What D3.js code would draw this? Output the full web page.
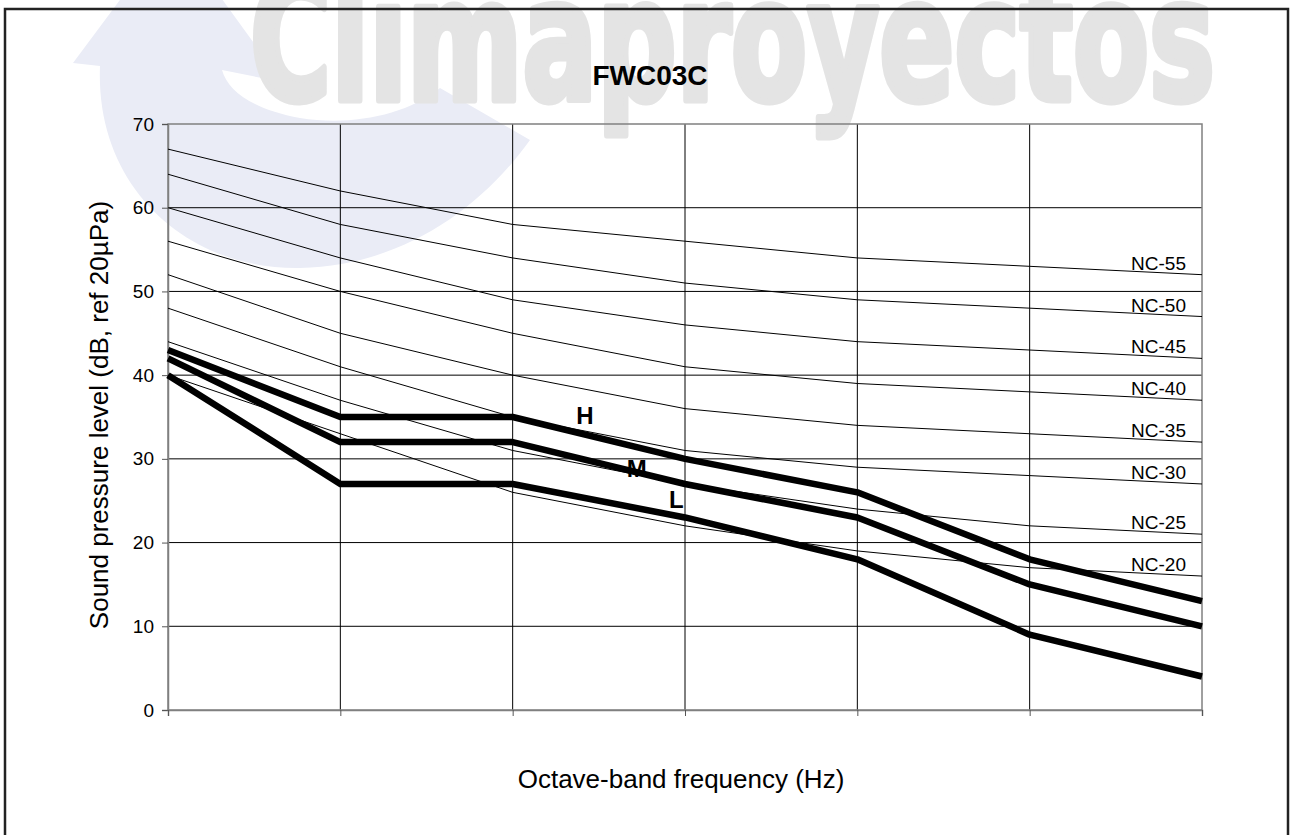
<!DOCTYPE html>
<html>
<head>
<meta charset="utf-8">
<script src="https://cdn.jsdelivr.net/npm/d3@7"></script>
<style>
  html, body { margin: 0; padding: 0; background: #fff; }
  svg { display: block; font-family: Arial, 'Liberation Sans', sans-serif; }
</style>
</head>
<body>
<svg id="chart" width="1290" height="835"></svg>
<script>
// octave bands (Hz), x axis has no printed labels
const bands = [125, 250, 500, 1000, 2000, 4000, 8000]
const yTicks = [0, 10, 20, 30, 40, 50, 60, 70]

// NC reference curves
const ncNames = ['NC-55', 'NC-50', 'NC-45', 'NC-40', 'NC-35', 'NC-30', 'NC-25', 'NC-20']
const ncValues = [
  [67, 62, 58, 56, 54, 53, 52],
  [64, 58, 54, 51, 49, 48, 47],
  [60, 54, 49, 46, 44, 43, 42],
  [56, 50, 45, 41, 39, 38, 37],
  [52, 45, 40, 36, 34, 33, 32],
  [48, 41, 35, 31, 29, 28, 27],
  [44, 37, 31, 27, 24, 22, 21],
  [40, 33, 26, 22, 19, 17, 16]
]

// unit fan speeds
const speedNames = ['H', 'M', 'L']
const speedValues = [
  [43, 35, 35, 30, 26, 18, 13],
  [42, 32, 32, 27, 23, 15, 10],
  [40, 27, 27, 23, 18, 9, 4]
]
// where the H / M / L tags sit (band index, dB)
const speedTagPos = [[2.42, 35.2], [2.72, 28.9], [2.95, 25.2]]

const svg = d3.select('#chart')
const margin = { top: 124, left: 168, right: 88, bottom: 125 }
const W = +svg.attr('width')
const H = +svg.attr('height')

// watermark (logo behind the chart)
svg.append('path')
  .attr('d', 'M100,66 C95,190 190,270 300,268 C400,266 480,210 530,140 L440,88 C405,116 350,126 300,118 C255,110 228,92 222,70 L282,82 L172,-70 L73,63 Z')
  .attr('fill', '#eaecf6')
svg.append('text')
  .attr('x', 250).attr('y', 100)
  .attr('textLength', 965).attr('lengthAdjust', 'spacingAndGlyphs')
  .attr('font-family', "'DejaVu Sans Condensed', 'DejaVu Sans', sans-serif")
  .attr('font-weight', 'bold')
  .attr('font-size', 170)
  .attr('fill', '#e4e4e4')
  .attr('stroke', '#e4e4e4').attr('stroke-width', 7).attr('stroke-linejoin', 'round')
  .text('Climaproyectos')

// outer frame
svg.append('rect')
  .attr('x', 5).attr('y', 9).attr('width', 1283).attr('height', 900)
  .attr('fill', 'none').attr('stroke', '#222').attr('stroke-width', 2.5)

const x = d3.scalePoint().domain(d3.range(bands.length)).range([margin.left, W - margin.right])
const xIdx = d3.scaleLinear().domain([0, bands.length - 1]).range([margin.left, W - margin.right])
const y = d3.scaleLinear().domain([0, 70]).range([H - margin.bottom, margin.top])

// gridlines
svg.append('g')
  .selectAll('line.h')
  .data(yTicks.slice(1, -1))
  .join('line')
  .attr('x1', margin.left).attr('x2', W - margin.right)
  .attr('y1', d => y(d)).attr('y2', d => y(d))
  .attr('stroke', '#000').attr('stroke-width', 1)
svg.append('g')
  .selectAll('line.v')
  .data(d3.range(1, bands.length - 1))
  .join('line')
  .attr('x1', d => x(d)).attr('x2', d => x(d))
  .attr('y1', y(0)).attr('y2', y(70))
  .attr('stroke', '#000').attr('stroke-width', 1)

// plot border
svg.append('rect')
  .attr('x', margin.left).attr('y', y(70))
  .attr('width', x(bands.length - 1) - margin.left).attr('height', y(0) - y(70))
  .attr('fill', 'none').attr('stroke', '#808080').attr('stroke-width', 1.5)

// axes
const yAxis = d3.axisLeft(y).tickValues(yTicks).tickSize(6).tickPadding(8)
svg.append('g')
  .attr('transform', `translate(${margin.left},0)`)
  .call(yAxis)
  .call(g => g.select('.domain').attr('stroke', '#808080').attr('stroke-width', 1.5))
  .call(g => g.selectAll('.tick line').attr('stroke', '#555'))
  .call(g => g.selectAll('.tick text').attr('font-size', 19).attr('font-family', 'Arial, Liberation Sans, sans-serif').attr('fill', '#000'))

const xAxis = d3.axisBottom(x).tickSize(6).tickFormat('')
svg.append('g')
  .attr('transform', `translate(0,${y(0)})`)
  .call(xAxis)
  .call(g => g.select('.domain').attr('stroke', '#808080').attr('stroke-width', 1.5))
  .call(g => g.selectAll('.tick line').attr('stroke', '#555'))

const line = d3.line().x((d, i) => x(i)).y(d => y(d))

// NC curves
svg.append('g')
  .selectAll('path')
  .data(ncValues)
  .join('path')
  .attr('d', line)
  .attr('fill', 'none').attr('stroke', '#000').attr('stroke-width', 1)

svg.append('g')
  .selectAll('text')
  .data(ncValues)
  .join('text')
  .attr('x', W - margin.right - 16)
  .attr('y', d => y(d[d.length - 1]) - 5)
  .attr('text-anchor', 'end')
  .attr('font-size', 19)
  .text((d, i) => ncNames[i])

// fan speed curves
svg.append('g')
  .selectAll('path')
  .data(speedValues)
  .join('path')
  .attr('d', line)
  .attr('fill', 'none').attr('stroke', '#000').attr('stroke-width', 6.5)
  .attr('stroke-linejoin', 'round')

svg.append('g')
  .selectAll('text')
  .data(speedTagPos)
  .join('text')
  .attr('x', d => xIdx(d[0]))
  .attr('y', d => y(d[1]))
  .attr('dy', '0.36em')
  .attr('text-anchor', 'middle')
  .attr('font-size', 24)
  .attr('font-weight', 'bold')
  .text((d, i) => speedNames[i])

// titles
svg.append('text')
  .attr('x', 650).attr('y', 85)
  .attr('text-anchor', 'middle')
  .attr('font-size', 28).attr('font-weight', 'bold')
  .text('FWC03C')

svg.append('text')
  .attr('x', (margin.left + W - margin.right) / 2 - 4).attr('y', 788)
  .attr('text-anchor', 'middle')
  .attr('font-size', 26)
  .text('Octave-band frequency (Hz)')

svg.append('text')
  .attr('transform', `translate(108,${(y(0) + y(70)) / 2 - 2}) rotate(-90)`)
  .attr('text-anchor', 'middle')
  .attr('font-size', 26)
  .text('Sound pressure level (dB, ref 20µPa)')
</script>
</body>
</html>
